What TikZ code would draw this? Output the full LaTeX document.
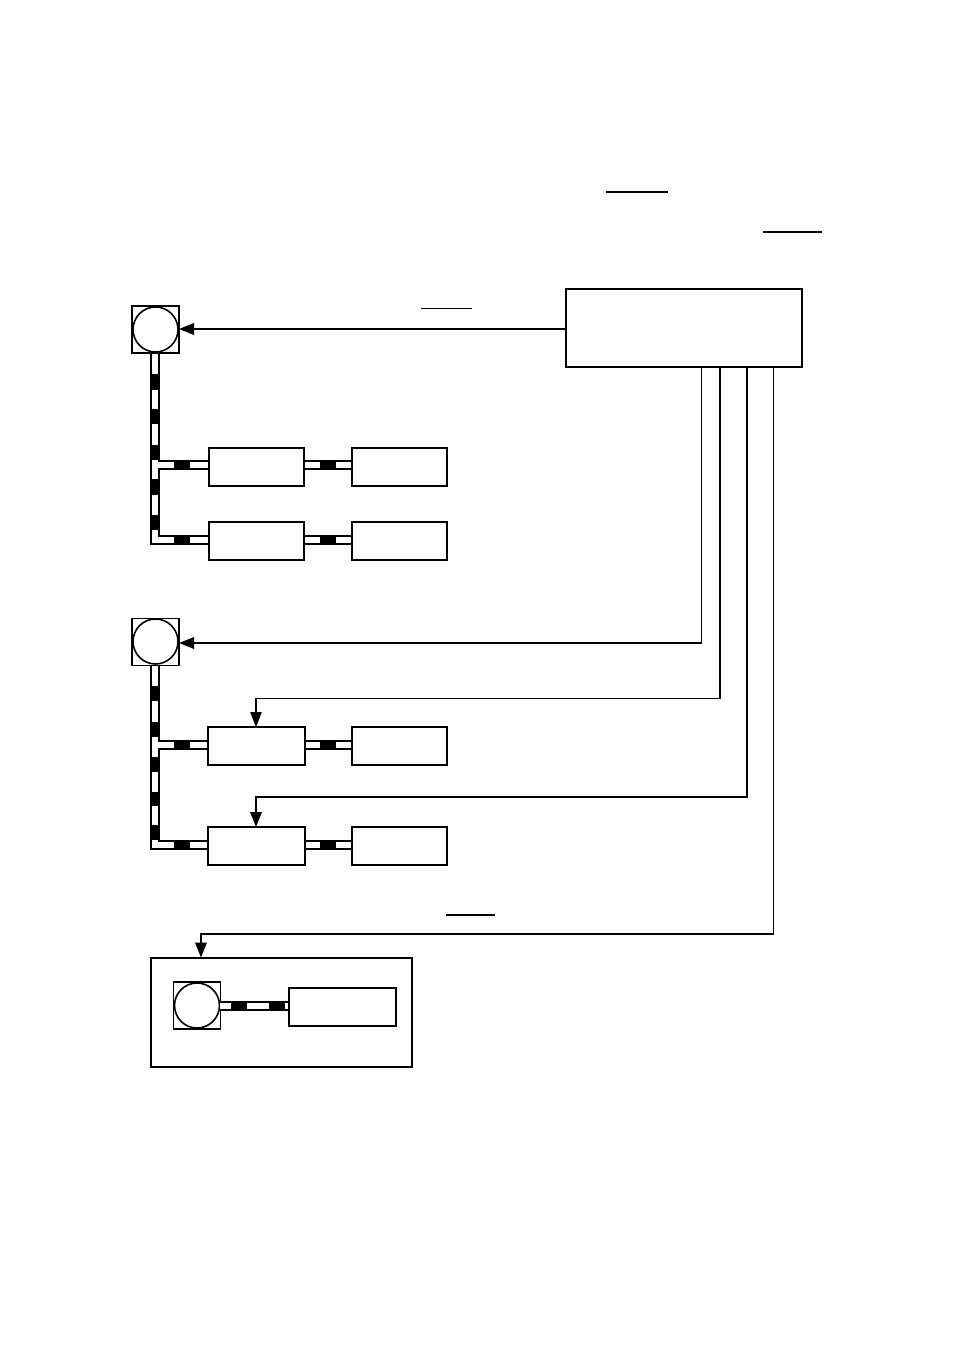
\documentclass[tikz,border=0pt]{standalone}
\usetikzlibrary{arrows.meta,calc}
\tikzset{
  x=1pt,y=-1pt,
  boxn/.style={draw,line width=2pt,anchor=north west,inner sep=0pt,outer sep=0pt},
  sq/.style={draw,line width=1.7pt,minimum size=47pt,inner sep=0pt,outer sep=0pt},
  circ/.style={draw,circle,line width=1.6pt,minimum size=45pt,inner sep=0pt,outer sep=0pt,fill=white},
  tip/.style={-{Triangle[length=15pt,width=11.5pt]}},
  thick line/.style={line width=2pt},
  thin line/.style={line width=1.3pt},
  edge line/.style={line width=1.5pt},
  block/.style={fill=black,draw=none},
  under/.style={line width=1.3pt},
}
\newcommand{\bx}[5]{\node[boxn,minimum width=#4pt,minimum height=#5pt] (#1) at (#2,#3) {};}
\newcommand{\hcable}[5]{%
  \fill[white] (#1,#3) rectangle (#2,#3+8);
  \draw[edge line] (#1,#3) -- (#2,#3) (#1,#3+8) -- (#2,#3+8);
  \fill[block] (#4,#3-.5) rectangle (#5,#3+8.5);}
\begin{document}
\begin{tikzpicture}
\useasboundingbox (0,0) rectangle (954,1351);
% underlines
\coordinate (u1a) at (606,192); \coordinate (u1b) at (667.5,192);
\coordinate (u2a) at (763,232); \coordinate (u2b) at (822,232);
\coordinate (u3a) at (421,308.5); \coordinate (u3b) at (472,308.5);
\coordinate (u4a) at (446,915); \coordinate (u4b) at (495,915);
\draw[under] (u1a)--(u1b) (u2a)--(u2b) (u3a)--(u3b) (u4a)--(u4b);
% main
\bx{main}{565.5}{288.5}{236}{78.5}
% group 1
\node[sq] (s1) at (155.5,329.5) {};
\node[circ] (c1) at (155.5,329.5) {};
\draw[edge line] (151,353) -- (151,544) -- (209,544);
\draw[edge line] (159,353) -- (159,461) -- (209,461);
\draw[edge line] (209,469) -- (159,469) -- (159,536) -- (209,536);
\foreach \a/\b in {374/390,409/424,445/460,479/495,515/530}{\fill[block] (150.5,\a) rectangle (159,\b);}
\foreach \y in {461,536}{\fill[block] (174,\y-.5) rectangle (190,\y+8.5);}
\hcable{304}{352}{461}{320}{336}
\hcable{304}{352}{536}{320}{336}
\bx{a1}{209}{448}{95}{37.5}
\bx{b1}{352}{448}{95}{37.5}
\bx{a2}{209}{522}{95}{38}
\bx{b2}{352}{522}{95}{38}
% group 2
\node[sq] (s2) at (155.5,642) {};
\node[circ] (c2) at (155.5,641.5) {};
\draw[edge line] (151,665) -- (151,849) -- (208,849);
\draw[edge line] (159,665) -- (159,741) -- (208,741);
\draw[edge line] (208,749) -- (159,749) -- (159,841) -- (208,841);
\foreach \a/\b in {686/701,722/737,757/772,792/806,825/840}{\fill[block] (150.5,\a) rectangle (159,\b);}
\foreach \y in {741,841}{\fill[block] (174,\y-.5) rectangle (190,\y+8.5);}
\hcable{305}{352}{741}{320}{336}
\hcable{305}{352}{841}{320}{336}
\bx{a3}{208}{727}{97}{38}
\bx{b3}{352}{727}{95}{38}
\bx{a4}{208}{827}{97}{38}
\bx{b4}{352}{827}{95}{38}
% group 3
\bx{big}{150.5}{957.5}{261.5}{109.5}
\node[sq] (s3) at (197,1005.5) {};
\node[circ] (c3) at (197,1005.5) {};
\hcable{220}{289}{1002}{231}{247}
\fill[block] (268.5,1001.5) rectangle (285,1010.5);
\bx{a5}{289}{988}{107}{38}
% connectors
\coordinate (o1) at (701.6,367); \coordinate (o2) at (720,367);
\coordinate (o3) at (747,367); \coordinate (o4) at (773.5,367);
\coordinate (k1) at (701.6,643); \coordinate (k2) at (720,698.5);
\coordinate (k3) at (747,797); \coordinate (k4) at (773.5,934);
\draw[thick line,tip] (main.west |- 0,329) -- (s1.east |- 0,329);
\draw[thin line] (o1) -- (k1);
\draw[thick line,tip] ($(k1)+(.5,0)$) -- (s2.east |- 0,643);
\draw[thick line] (o2) -- (k2);
\draw[thin line,tip] ($(k2)+(1,0)$) -- (256,698.5) -- (a3.north -| 256,0);
\draw[thick line,tip] (o3) -- (k3) -- (256,797) -- (a4.north -| 256,0);
\draw[thin line] (o4) -- (k4);
\draw[thick line,tip] ($(k4)+(.5,0)$) -- (201,934) -- (big.north -| 201,0);
\end{tikzpicture}
\end{document}
